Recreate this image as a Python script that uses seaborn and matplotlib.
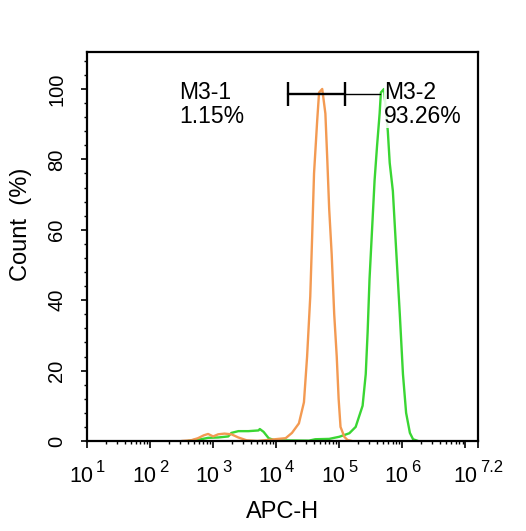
import numpy as np
import pandas as pd
import matplotlib
matplotlib.use('Agg')
from matplotlib import pyplot as plt
from matplotlib.ticker import MultipleLocator, FixedLocator, LogLocator, NullFormatter
import seaborn as sns

# Flow cytometry overlay: control (orange) vs stained (green), x given as log10(APC-H)
ctrl_log = [2.50, 2.65, 2.76, 2.85, 2.92, 3.00, 3.08, 3.18, 3.29, 3.40, 3.53, 3.70,
            3.98, 4.15, 4.25, 4.36, 4.44, 4.49, 4.54, 4.57, 4.60, 4.65, 4.68, 4.73,
            4.78, 4.81, 4.84, 4.88, 4.92, 4.96, 4.99, 5.02, 5.08, 5.13, 5.20]
ctrl_pct = [0.0, 0.2, 0.8, 1.6, 2.0, 1.3, 1.9, 2.1, 1.9, 1.0, 0.2, 0.0,
            0.5, 0.8, 2.3, 5.0, 11.0, 24.0, 41.0, 58.0, 76.0, 91.0, 99.0, 100.0,
            93.0, 80.0, 66.0, 53.0, 36.0, 24.0, 12.0, 4.0, 1.2, 0.3, 0.0]

stain_log = [2.60, 2.70, 2.81, 2.92, 3.08, 3.24, 3.29, 3.40, 3.56, 3.72, 3.74, 3.80,
             3.88, 3.98, 4.52, 4.62, 4.84, 5.00, 5.16, 5.26, 5.37, 5.42, 5.45, 5.48,
             5.52, 5.56, 5.60, 5.64, 5.66, 5.71, 5.77, 5.80, 5.85, 5.90, 5.96, 6.01,
             6.06, 6.12, 6.17, 6.25]
stain_pct = [0.0, 0.3, 0.5, 0.9, 1.0, 1.3, 2.3, 2.8, 2.8, 3.0, 3.4, 2.6,
             0.8, 0.2, 0.1, 0.5, 0.6, 1.2, 2.2, 4.0, 10.0, 19.0, 31.0, 46.0,
             60.0, 74.0, 84.0, 93.0, 99.0, 100.0, 88.0, 79.0, 71.0, 55.0, 36.0, 19.0,
             8.0, 2.3, 0.5, 0.0]

# gates (log10 bounds) and their stats
gate_m31 = (4.19, 5.09)
gate_m32 = (5.09, 5.65)
gate_level = 98.6
gate_names = ['M3-1', 'M3-2']
gate_pcts = ['1.15%', '93.26%']

x_decades = ['1', '2', '3', '4', '5', '6', '7.2']
y_ticks = [0, 20, 40, 60, 80, 100]

sns.set_style('ticks')
plt.rcParams['font.family'] = ['Liberation Sans', 'DejaVu Sans']
plt.rcParams.update({'text.color': 'black', 'axes.labelcolor': 'black',
                     'xtick.color': 'black', 'ytick.color': 'black'})

fig = plt.figure(figsize=(5.26, 5.31), dpi=100)
ax = fig.add_axes([87 / 526, 1 - 441 / 531, (478 - 87) / 526, (441 - 52) / 531])

df_ctrl = pd.DataFrame({'APC-H': 10 ** np.array(ctrl_log), 'Count': ctrl_pct})
df_stain = pd.DataFrame({'APC-H': 10 ** np.array(stain_log), 'Count': stain_pct})
sns.lineplot(data=df_stain, x='APC-H', y='Count', color='#3ad633', lw=1.7,
             estimator=None, ax=ax)
sns.lineplot(data=df_ctrl, x='APC-H', y='Count', color='#f39a52', lw=1.7,
             estimator=None, ax=ax)

ax.set_xscale('log')
ax.set_xlim(10, 10 ** 7.2)
ax.set_ylim(0, 110.5)

# gate markers
ax.plot([10 ** gate_m31[0], 10 ** gate_m31[1]], [gate_level, gate_level], color='black', lw=1.7)
ax.vlines([10 ** gate_m31[0], 10 ** gate_m31[1]], gate_level - 3.3, gate_level + 3.3,
          color='black', lw=1.7)
ax.plot([10 ** gate_m32[0], 10 ** gate_m32[1]], [gate_level, gate_level], color='black', lw=1.0)

ax.text(10 ** 2.46, 102.3, gate_names[0] + '\n' + gate_pcts[0], ha='left', va='top',
        fontsize=16.5, linespacing=1.08)
ax.text(10 ** 5.71, 102.3, gate_names[1] + '\n' + gate_pcts[1], ha='left', va='top',
        fontsize=16.5, linespacing=1.08,
        bbox=dict(facecolor='white', edgecolor='none', alpha=0.85, pad=0))

# axes styling
for s in ax.spines.values():
    s.set_linewidth(1.6)
    s.set_color('black')

major_x = [10 ** float(e) for e in x_decades[:-1]] + [1e7, 10 ** 7.2]
ax.xaxis.set_major_locator(FixedLocator(major_x))
ax.xaxis.set_minor_locator(LogLocator(base=10, subs=np.arange(2, 10), numticks=20))
ax.xaxis.set_minor_formatter(NullFormatter())
ax.set_xticklabels([''] * len(major_x))
ax.tick_params(axis='x', which='major', length=5, width=1.2)
ax.tick_params(axis='x', which='minor', length=2.5, width=1.0)

ax.yaxis.set_major_locator(FixedLocator(y_ticks))
ax.yaxis.set_minor_locator(MultipleLocator(4))
ax.tick_params(axis='y', which='major', length=4, width=1.2,
               labelsize=14.5, labelrotation=90, pad=11)
ax.tick_params(axis='y', which='minor', length=2.5, width=1.0)
for lab in ax.get_yticklabels():
    lab.set_va('center')

# x tick labels as 10 + raised exponent
fs_base, fs_exp, gap = 15.5, 12, 2.0
w10 = fs_base * 1.112
for e in x_decades:
    w_exp = fs_exp * sum(0.278 if c == '.' else 0.556 for c in e)
    left = -(w10 + gap + w_exp) / 2
    pos = 10 ** float(e)
    ax.annotate('10', xy=(pos, 0), xycoords=('data', 'axes fraction'),
                xytext=(left, -18), textcoords='offset points',
                ha='left', va='top', fontsize=fs_base, annotation_clip=False)
    ax.annotate(e, xy=(pos, 0), xycoords=('data', 'axes fraction'),
                xytext=(left + w10 + gap, -13.8), textcoords='offset points',
                ha='left', va='top', fontsize=fs_exp, annotation_clip=False)

ax.set_xlabel('APC-H', fontsize=17)
ax.xaxis.set_label_coords(0.5, -0.155)
ax.set_ylabel('Count  (%)', fontsize=17)
ax.yaxis.set_label_coords(-0.141, 0.557)

fig.savefig('out.png', dpi=100)
